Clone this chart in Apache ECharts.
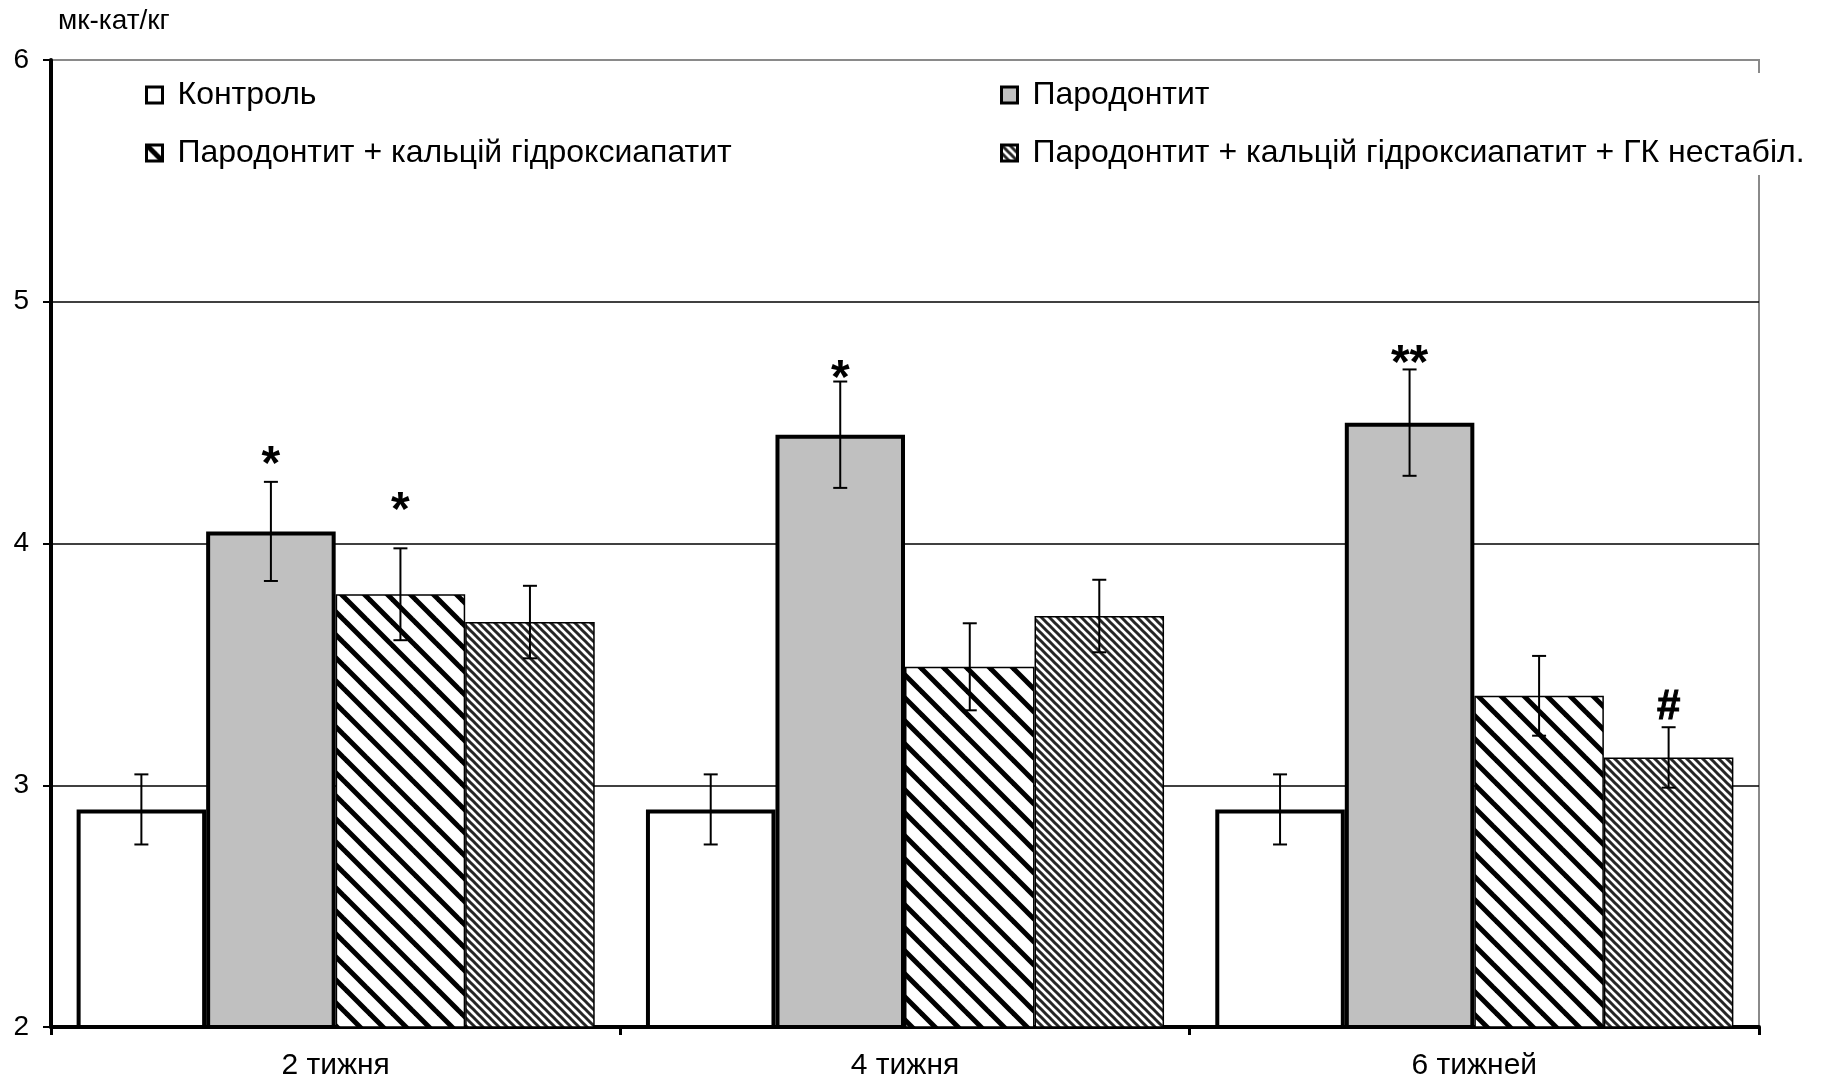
<!DOCTYPE html>
<html>
<head>
<meta charset="utf-8">
<script src="https://cdn.jsdelivr.net/npm/echarts@6/dist/echarts.min.js"></script>
<style>
html,body{margin:0;padding:0;background:#fff;}
#main{width:1822px;height:1082px;}
</style>
</head>
<body>
<div id="main"></div>
<script>
const categories = ['2 тижня', '4 тижня', '6 тижней'];
const seriesNames = ['Контроль', 'Пародонтит', 'Пародонтит + кальцій гідроксиапатит', 'Пародонтит + кальцій гідроксиапатит + ГК нестабіл.'];
const control = [2.9, 2.9, 2.9];
const controlErr = [0.145, 0.145, 0.145];
const paro = [4.05, 4.45, 4.5];
const paroErr = [0.205, 0.22, 0.22];
const paroCa = [3.79, 3.49, 3.37];
const paroCaErr = [0.19, 0.18, 0.165];
const paroCaGk = [3.675, 3.70, 3.115];
const paroCaGkErr = [0.15, 0.15, 0.125];
const controlMarks = ['', '', ''];
const paroMarks = ['*', '*', '**'];
const paroCaMarks = ['*', '', ''];
const paroCaGkMarks = ['', '', '#'];
const yTicks = [2, 3, 4, 5, 6];
const unitLabel = 'мк-кат/кг';

// styling: gap (px) between the error-bar cap and the centre of each significance mark
const markGapStyle = [[0, 0, 0], [27, 13, 15], [47, 0, 0], [0, 0, 22]];

const GAP = 0.09;
const FONT = '"Liberation Sans", Arial, sans-serif';

function makeHatch(P, lw, color) {
  const c = document.createElement('canvas');
  c.width = P; c.height = P;
  const ctx = c.getContext('2d');
  ctx.fillStyle = '#fff';
  ctx.fillRect(0, 0, P, P);
  ctx.strokeStyle = color;
  ctx.lineWidth = lw;
  for (let k = -1; k <= 1; k++) {
    ctx.beginPath();
    ctx.moveTo(k * P - 2, -2);
    ctx.lineTo(k * P + P + 2, P + 2);
    ctx.stroke();
  }
  return c;
}
const hatchWide = makeHatch(23, 5, '#000');
const hatchFine = makeHatch(8, 3, '#262626');

const values = [control, paro, paroCa, paroCaGk];
const errs = [controlErr, paroErr, paroCaErr, paroCaGkErr];
const marks = [controlMarks, paroMarks, paroCaMarks, paroCaGkMarks];
const fills = ['#ffffff', '#c0c0c0', {image: hatchWide, repeat: 'repeat'}, {image: hatchFine, repeat: 'repeat'}];
const borders = [4, 4, 1.5, 1.5];

const series = [];
values.forEach((vals, s) => {
  series.push({
    name: seriesNames[s],
    type: 'bar',
    data: vals,
    barGap: '0%',
    barCategoryGap: (GAP * 100) + '%',
    itemStyle: {color: fills[s], borderColor: '#000', borderWidth: borders[s]},
    emphasis: {disabled: true},
    z: 2
  });
});
values.forEach((vals, s) => {
  series.push({
    type: 'custom',
    z: 5,
    silent: true,
    data: vals.map((v, i) => [i, v, errs[s][i]]),
    encode: {x: 0, y: 1},
    renderItem: function (params, api) {
      const ci = api.value(0), v = api.value(1), e = api.value(2);
      const c = api.coord([ci, v]);
      const bw = api.size([1, 0])[0] * (1 - GAP) / 4;
      const x = c[0] + (s - 1.5) * bw;
      const top = api.coord([ci, v + e])[1];
      const bot = api.coord([ci, v - e])[1];
      const st = {stroke: '#000', lineWidth: 2};
      const ch = [
        {type: 'line', shape: {x1: x, y1: top, x2: x, y2: bot}, style: st},
        {type: 'line', shape: {x1: x - 7, y1: top, x2: x + 7, y2: top}, style: st},
        {type: 'line', shape: {x1: x - 7, y1: bot, x2: x + 7, y2: bot}, style: st}
      ];
      const m = marks[s][params.dataIndex];
      if (m) {
        const gap = markGapStyle[s][params.dataIndex];
        const isHash = m === '#';
        const F = isHash ? 42 : 48;
        const centerY = top - gap;
        const yb = isHash ? centerY + 0.55 * F : centerY + 0.725 * F;
        ch.push({
          type: 'text',
          style: {
            text: m, x: x, y: yb,
            align: 'center', verticalAlign: 'bottom',
            font: 'bold ' + F + 'px ' + FONT, fill: '#000',
            stroke: isHash ? '#000' : null, lineWidth: isHash ? 1 : 0
          }
        });
      }
      return {type: 'group', children: ch};
    }
  });
});

const legendText = {fontFamily: FONT, fontSize: 32, color: '#000', lineHeight: 34, padding: [0, 0, 0, 10]};
const chart = echarts.init(document.getElementById('main'));
chart.setOption({
  animation: false,
  backgroundColor: '#fff',
  textStyle: {fontFamily: FONT, color: '#000'},
  title: {text: unitLabel, left: 53, top: 2, textStyle: {fontFamily: FONT, fontSize: 28, fontWeight: 'normal', color: '#000'}},
  grid: {left: 51, right: 63, top: 60, bottom: 55, show: true, borderColor: '#8a8a8a', borderWidth: 2, backgroundColor: 'transparent'},
  legend: [
    {
      data: [seriesNames[0], seriesNames[2]], orient: 'vertical', left: 140, top: 73,
      itemWidth: 16, itemHeight: 16, itemGap: 24, icon: 'rect',
      itemStyle: {borderColor: '#000', borderWidth: 3},
      textStyle: legendText,
      selectedMode: false
    },
    {
      data: [seriesNames[1], seriesNames[3]], orient: 'vertical', left: 995, top: 73,
      itemWidth: 16, itemHeight: 16, itemGap: 24, icon: 'rect', backgroundColor: '#fff',
      itemStyle: {borderColor: '#000', borderWidth: 3},
      textStyle: legendText,
      selectedMode: false
    }
  ],
  xAxis: {
    type: 'category', data: categories,
    axisLine: {lineStyle: {color: '#000', width: 4}},
    axisTick: {show: true, length: 8, lineStyle: {color: '#000', width: 3}},
    axisLabel: {fontSize: 30, color: '#000', margin: 24, fontFamily: FONT},
    splitLine: {show: false}
  },
  yAxis: {
    type: 'value', min: yTicks[0], max: yTicks[yTicks.length - 1], interval: 1,
    axisLine: {show: true, lineStyle: {color: '#000', width: 4}},
    axisTick: {show: true, length: 8, lineStyle: {color: '#000', width: 2}},
    axisLabel: {fontSize: 28, color: '#000', margin: 22, fontFamily: FONT},
    splitLine: {show: true, showMaxLine: false, lineStyle: {color: '#000', width: 1.5}}
  },
  series: series
});
</script>
</body>
</html>
